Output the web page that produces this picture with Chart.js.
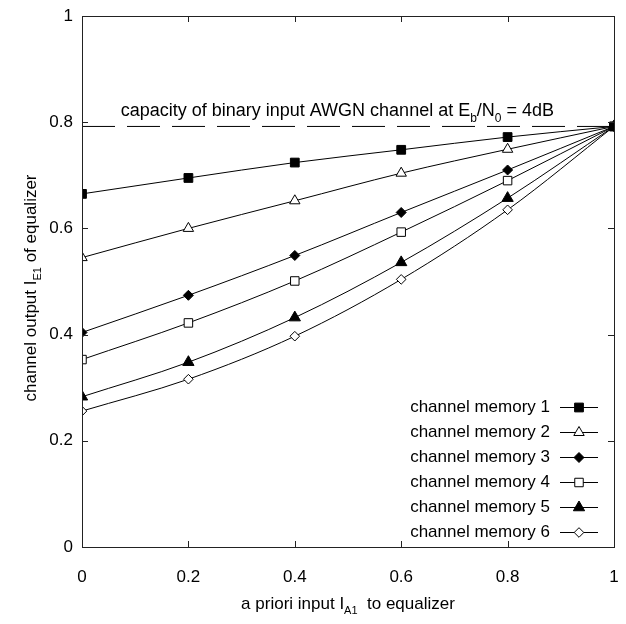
<!DOCTYPE html>
<html>
<head>
<meta charset="utf-8">
<script src="https://cdn.jsdelivr.net/npm/chart.js@4/dist/chart.umd.min.js"></script>
<style>
  html, body { margin: 0; padding: 0; background: #fff; }
  canvas { display: block; }
</style>
</head>
<body>
<canvas id="c" width="626" height="624"></canvas>
<script>
// a priori input I_A1 (x) where the equalizer transfer was evaluated
const aPriori = [0, 0.2, 0.4, 0.6, 0.8, 1];

// channel output I_E1 for each channel memory length
const memory1 = [0.665, 0.695, 0.724, 0.748, 0.772, 0.792];
const memory2 = [0.545, 0.600, 0.652, 0.704, 0.749, 0.792];
const memory3 = [0.404, 0.474, 0.549, 0.630, 0.710, 0.792];
const memory4 = [0.353, 0.422, 0.501, 0.593, 0.690, 0.792];
const memory5 = [0.283, 0.348, 0.432, 0.536, 0.657, 0.792];
const memory6 = [0.256, 0.316, 0.397, 0.504, 0.635, 0.792];

const seriesNames = ['channel memory 1', 'channel memory 2', 'channel memory 3',
                     'channel memory 4', 'channel memory 5', 'channel memory 6'];

// capacity of the binary-input AWGN channel at Eb/N0 = 4 dB
const capacity = 0.792;
const capacityRange = [0, 1];

const axisTicks = [0, 0.2, 0.4, 0.6, 0.8, 1];

const FONT = '"Liberation Sans", Arial, sans-serif';

const markerStyles = [
  { pointStyle: 'rect',     radius: 6.2, fill: '#000' },
  { pointStyle: 'triangle', radius: 6,   fill: '#fff' },
  { pointStyle: 'rectRot',  radius: 5,   fill: '#000' },
  { pointStyle: 'rect',     radius: 6,   fill: '#fff' },
  { pointStyle: 'triangle', radius: 6.5, fill: '#000' },
  { pointStyle: 'rectRot',  radius: 4.8, fill: '#fff' }
];

const seriesValues = [memory1, memory2, memory3, memory4, memory5, memory6];

const datasets = seriesValues.map((vals, i) => ({
  label: seriesNames[i],
  data: aPriori.map((x, j) => ({ x: x, y: vals[j] })),
  borderColor: '#000',
  borderWidth: 1,
  backgroundColor: markerStyles[i].fill,
  pointBackgroundColor: markerStyles[i].fill,
  pointBorderColor: '#000',
  pointBorderWidth: 1,
  pointStyle: markerStyles[i].pointStyle,
  pointRadius: markerStyles[i].radius,
  cubicInterpolationMode: 'monotone',
  fill: false
}));

datasets.push({
  label: 'capacity',
  data: capacityRange.map(x => ({ x: x, y: capacity })),
  borderColor: '#000',
  borderWidth: 1,
  borderDash: [33, 12],
  pointRadius: 0,
  fill: false
});

// draws a marker shape used in the legend (same geometry as the chart points)
function drawMarker(ctx, style, x, y) {
  const r = style.radius;
  ctx.save();
  ctx.fillStyle = style.fill;
  ctx.strokeStyle = '#000';
  ctx.lineWidth = 1;
  ctx.beginPath();
  if (style.pointStyle === 'rect') {
    const s = r * Math.SQRT1_2;
    ctx.rect(x - s, y - s, 2 * s, 2 * s);
  } else if (style.pointStyle === 'rectRot') {
    ctx.moveTo(x, y - r);
    ctx.lineTo(x + r, y);
    ctx.lineTo(x, y + r);
    ctx.lineTo(x - r, y);
    ctx.closePath();
  } else if (style.pointStyle === 'triangle') {
    const w = r * Math.sqrt(3) / 2;
    ctx.moveTo(x, y - r);
    ctx.lineTo(x + w, y + r / 2);
    ctx.lineTo(x - w, y + r / 2);
    ctx.closePath();
  }
  ctx.fill();
  ctx.stroke();
  ctx.restore();
}

// draws a string made of normal and subscript pieces; returns total width
function richText(ctx, parts, size, measureOnly, x, y) {
  let w = 0;
  for (const p of parts) {
    const fs = p.sub ? Math.round(size * 0.65) : size;
    ctx.font = fs + 'px ' + FONT;
    const pw = ctx.measureText(p.t).width;
    if (!measureOnly) {
      ctx.fillText(p.t, x + w, y + (p.sub ? size * 0.3 : 0));
    }
    w += pw;
  }
  return w;
}

const decorPlugin = {
  id: 'decor',
  afterDraw(chart) {
    const ctx = chart.ctx;
    const a = chart.chartArea;
    const xs = chart.scales.x, ys = chart.scales.y;
    ctx.save();

    // frame
    ctx.strokeStyle = '#222';
    ctx.lineWidth = 1;
    ctx.strokeRect(Math.round(a.left) + 0.5, Math.round(a.top) + 0.5,
                   Math.round(a.right - a.left), Math.round(a.bottom - a.top));

    // inward tick marks on all four sides
    const tl = 6;
    ctx.beginPath();
    axisTicks.forEach(v => {
      const px = Math.round(xs.getPixelForValue(v)) + 0.5;
      ctx.moveTo(px, a.bottom); ctx.lineTo(px, a.bottom - tl);
      ctx.moveTo(px, a.top);    ctx.lineTo(px, a.top + tl);
      const py = Math.round(ys.getPixelForValue(v)) + 0.5;
      ctx.moveTo(a.left, py);  ctx.lineTo(a.left + tl, py);
      ctx.moveTo(a.right, py); ctx.lineTo(a.right - tl, py);
    });
    ctx.stroke();

    ctx.fillStyle = '#000';
    ctx.textBaseline = 'alphabetic';
    ctx.textAlign = 'left';

    // capacity annotation
    const capParts = [
      { t: 'capacity of binary input AWGN channel at E' }, { t: 'b', sub: true },
      { t: '/N' }, { t: '0', sub: true }, { t: ' = 4dB' }
    ];
    const cw = richText(ctx, capParts, 18, true);
    const cx = xs.getPixelForValue(0.48) - cw / 2;
    richText(ctx, capParts, 18, false, cx, ys.getPixelForValue(capacity) - 10);

    // x axis title
    const xParts = [{ t: 'a priori input I' }, { t: 'A1', sub: true }, { t: '  to equalizer' }];
    const xw = richText(ctx, xParts, 17, true);
    richText(ctx, xParts, 17, false, (a.left + a.right) / 2 - xw / 2, 609);

    // y axis title
    const yParts = [{ t: 'channel output I' }, { t: 'E1', sub: true }, { t: ' of equalizer' }];
    const yw = richText(ctx, yParts, 17, true);
    ctx.save();
    ctx.translate(36, 288);
    ctx.rotate(-Math.PI / 2);
    richText(ctx, yParts, 17, false, -yw / 2, 0);
    ctx.restore();

    // legend
    ctx.font = '17px ' + FONT;
    ctx.textAlign = 'right';
    ctx.textBaseline = 'middle';
    const rowTop = 407, rowStep = 25;
    seriesNames.forEach((name, i) => {
      const y = rowTop + i * rowStep;
      ctx.fillStyle = '#000';
      ctx.fillText(name, 550, y);
      ctx.beginPath();
      ctx.strokeStyle = '#000';
      ctx.lineWidth = 1;
      ctx.moveTo(560, Math.round(y) + 0.5);
      ctx.lineTo(598, Math.round(y) + 0.5);
      ctx.stroke();
      drawMarker(ctx, markerStyles[i], 579, Math.round(y) + 0.5);
    });

    ctx.restore();
  }
};

new Chart(document.getElementById('c'), {
  type: 'line',
  data: { datasets: datasets },
  plugins: [decorPlugin],
  options: {
    responsive: false,
    animation: false,
    devicePixelRatio: 1,
    layout: { padding: { top: 16, right: 12, left: 0, bottom: 0 } },
    plugins: { legend: { display: false }, tooltip: { enabled: false } },
    scales: {
      x: {
        type: 'linear',
        min: 0, max: 1,
        afterFit: s => { s.height = 77; s.paddingLeft = 0; s.paddingRight = 0; },
        afterBuildTicks: s => { s.ticks = axisTicks.map(v => ({ value: v })); },
        grid: { display: false, drawTicks: false },
        border: { display: false },
        ticks: {
          padding: 20,
          color: '#000',
          font: { family: FONT, size: 17 },
          maxRotation: 0,
          callback: v => String(+v.toFixed(1))
        }
      },
      y: {
        type: 'linear',
        min: 0, max: 1,
        afterFit: s => { s.width = 82; s.paddingTop = 0; s.paddingBottom = 0; },
        afterBuildTicks: s => { s.ticks = axisTicks.map(v => ({ value: v })); },
        grid: { display: false, drawTicks: false },
        border: { display: false },
        ticks: {
          padding: 9,
          color: '#000',
          font: { family: FONT, size: 17 },
          callback: v => String(+v.toFixed(1))
        }
      }
    }
  }
});
</script>
</body>
</html>
